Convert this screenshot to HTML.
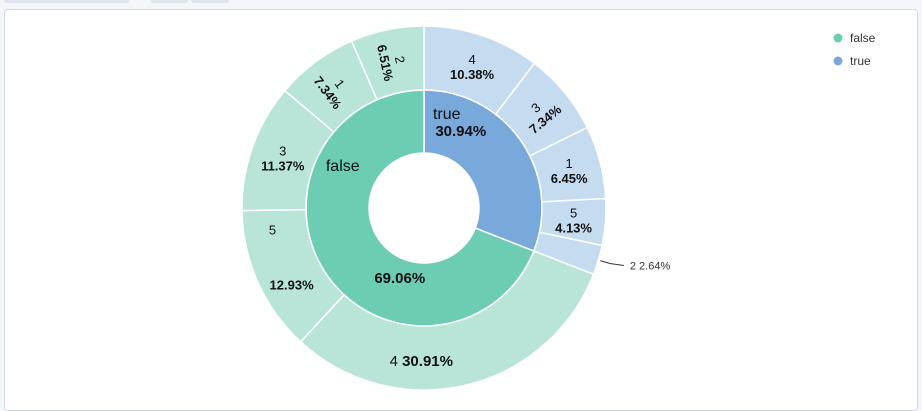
<!DOCTYPE html>
<html><head><meta charset="utf-8"><style>
body{margin:0;width:922px;height:406px;background:#f5f6f9;font-family:"Liberation Sans",sans-serif;overflow:hidden}
.card{position:absolute;left:4px;top:9px;width:912px;height:400px;background:#fff;border:1px solid #d3dae6;border-radius:4px}
.tab{position:absolute;top:0;height:3px;background:#e1e4ea;border-radius:0 0 3px 3px}
</style></head><body>
<div class="tab" style="left:4px;width:126px"></div>
<div class="tab" style="left:150px;width:38px"></div>
<div class="tab" style="left:191px;width:38px"></div>
<div class="card"></div>
<svg id="c" width="922" height="406" style="position:absolute;left:0;top:0"></svg>
<script>
const innerNames=["true","false"];
const innerValues=[30.94,69.06];
const outerParents=["true","true","true","true","true","false","false","false","false","false"];
const outerNames=["4","3","1","5","2","4","5","3","1","2"];
const outerValues=[10.38,7.34,6.45,4.13,2.64,30.91,12.93,11.37,7.34,6.51];
const legendNames=["false","true"];
const colInner={"true":"#79a8da","false":"#6dcdb2"},colOuter={"true":"#c5dbf0","false":"#b9e5d8"};
const NS="http://www.w3.org/2000/svg",svg=document.getElementById('c');
const cx=424,cy=208,r0=55,r1=118,r2=182;
const D=Math.PI/180;
function mk(t,a,p){const e=document.createElementNS(NS,t);for(const k in a)e.setAttribute(k,a[k]);(p||svg).appendChild(e);return e;}
function pt(a,r){return [cx+r*Math.sin(a),cy-r*Math.cos(a)];}
function arc(a0,a1,ri,ro){const [x0,y0]=pt(a0,ro),[x1,y1]=pt(a1,ro),[x2,y2]=pt(a1,ri),[x3,y3]=pt(a0,ri);const l=(a1-a0)>Math.PI?1:0;
return `M${x0},${y0}A${ro},${ro} 0 ${l} 1 ${x1},${y1}L${x2},${y2}A${ri},${ri} 0 ${l} 0 ${x3},${y3}Z`;}
const tot=innerValues.reduce((a,b)=>a+b,0);
const ang=v=>v/tot*2*Math.PI;
let a=0;
innerValues.forEach((v,i)=>{const a1=a+ang(v);
const p=mk('path',{d:arc(a,a1,r0,r1),fill:colInner[innerNames[i]],stroke:'#fff','stroke-width':1.5});


let nx,ny,vx,vy;
if(i===0){[nx,ny]=pt(a+0.25,92);vx=nx+14;vy=ny+17;}
else{[nx,ny]=pt(a1-62*D,92);[vx,vy]=pt(a+88*D,73);ny+=6;vy+=6;}
const t1=mk('text',{x:nx,y:ny,'font-size':16,'text-anchor':'middle',fill:'#111'});t1.textContent=innerNames[i];


const t2=mk('text',{x:vx,y:vy,'font-size':15,'font-weight':'bold','text-anchor':'middle',fill:'#111'});t2.textContent=v.toFixed(2)+'%';


a=a1;});
a=0;
outerValues.forEach((v,i)=>{const a1=a+ang(v),m=(a+a1)/2;
const p=mk('path',{d:arc(a,a1,r1,r2),fill:colOuter[outerParents[i]],stroke:'#fff','stroke-width':1.5});


const g=mk('g',{});


const deg=m*180/Math.PI;
if(v<3){const [x0,y0]=pt(m,r2+2),[x1,y1]=pt(m,r2+12);
mk('path',{d:`M${x0},${y0}L${x1},${y1}L${x1+14},${y1+2}`,stroke:'#333',fill:'none'},g);
const t=mk('text',{x:x1+20,y:y1+6,'font-size':11,fill:'#333'},g);t.textContent=outerNames[i]+'  '+v.toFixed(2)+'%';}
else if(v>25){const [x,y]=pt(m+14*D,152);const t=mk('text',{x:x,y:y+6,'font-size':15,'text-anchor':'middle',fill:'#111'},g);
t.innerHTML=outerNames[i]+' <tspan font-weight="bold">'+v.toFixed(2)+'%</tspan>';}
else if(v>12.5){const [x,y]=pt(m+16*D,153),[x2,y2]=pt(m-6*D,153);
const t=mk('text',{x:x,y:y+5,'font-size':13,'text-anchor':'middle',fill:'#111'},g);t.textContent=outerNames[i];
const t2=mk('text',{x:x2,y:y2+5,'font-size':13,'font-weight':'bold','text-anchor':'middle',fill:'#111'},g);t2.textContent=v.toFixed(2)+'%';}
else{const [x,y]=pt(m,150);let rot=0;if(v>=6.5&&v<8)rot=deg<180?deg-90:deg-270;
g.setAttribute('transform',`translate(${x},${y}) rotate(${rot})`);
const t=mk('text',{x:0,y:-2,'font-size':13,'text-anchor':'middle',fill:'#111'},g);t.textContent=outerNames[i];
const t2=mk('text',{x:0,y:13,'font-size':13,'font-weight':'bold','text-anchor':'middle',fill:'#111'},g);t2.textContent=v.toFixed(2)+'%';}
a=a1;});
legendNames.forEach((n,i)=>{const g=mk('g',{});


mk('circle',{cx:838,cy:38+i*23,r:4.5,fill:colInner[n]},g);
const t=mk('text',{x:850,y:42+i*23,'font-size':12,fill:'#333'},g);t.textContent=n;});
</script>
</body></html>
